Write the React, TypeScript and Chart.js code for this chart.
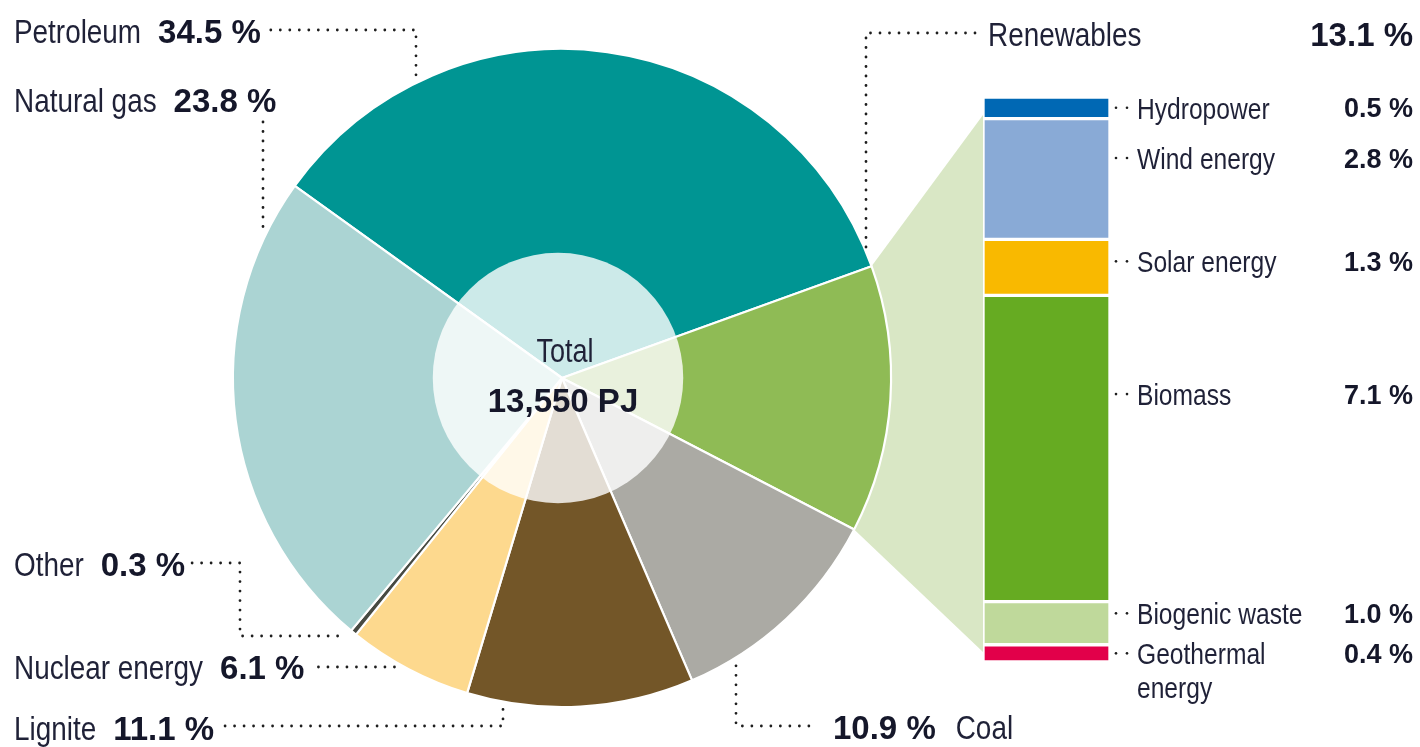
import React, { useEffect, useRef } from 'react';
import { Chart, registerables } from 'chart.js';

Chart.register(...registerables);

const W = 1420;
const H = 747;

// Primary energy sources (clockwise from the petroleum slice)
const sourceLabels = ['Petroleum', 'Renewables', 'Coal', 'Lignite', 'Nuclear energy', 'Other', 'Natural gas'];
const sourceValues = [34.5, 13.1, 10.9, 11.1, 6.1, 0.3, 23.8];
const sourceColors = ['#009593', '#8fbb55', '#abaaa4', '#735628', '#fdd98e', '#474a42', '#abd4d3'];

// Renewables breakdown (top to bottom)
const renewLabels = ['Hydropower', 'Wind energy', 'Solar energy', 'Biomass', 'Biogenic waste', 'Geothermal energy'];
const renewValues = [0.5, 2.8, 1.3, 7.1, 1.0, 0.4];
const renewColors = ['#0068b4', '#89aad6', '#f9b900', '#66ab22', '#bfd99b', '#e2004a'];

const totalLabel = 'Total';
const totalValue = '13,550 PJ';

const FONT = '"Liberation Sans", Arial, sans-serif';
const NARROW = 0.82;
const INK = '#1f2137';

const pct = (v: number) => `${v.toFixed(1)} %`;

function narrow(ctx: CanvasRenderingContext2D, text: string, x: number, cyT: number, size: number, align: 'left' | 'center' | 'right' = 'left') {
  ctx.save();
  ctx.font = `${size}px ${FONT}`;
  const w = ctx.measureText(text).width * NARROW;
  const left = align === 'left' ? x : align === 'center' ? x - w / 2 : x - w;
  ctx.translate(left, cyT + size * 0.358);
  ctx.scale(NARROW, 1);
  ctx.fillStyle = INK;
  ctx.textAlign = 'left';
  ctx.textBaseline = 'alphabetic';
  ctx.fillText(text, 0, 0);
  ctx.restore();
  return w;
}

function measureNarrow(ctx: CanvasRenderingContext2D, text: string, size: number) {
  ctx.save();
  ctx.font = `${size}px ${FONT}`;
  const w = ctx.measureText(text).width * NARROW;
  ctx.restore();
  return w;
}

function bold(ctx: CanvasRenderingContext2D, text: string, x: number, cyT: number, size: number, align: 'left' | 'center' | 'right' = 'left') {
  ctx.save();
  ctx.font = `bold ${size}px ${FONT}`;
  const w = ctx.measureText(text).width;
  const left = align === 'left' ? x : align === 'center' ? x - w / 2 : x - w;
  ctx.fillStyle = '#15172a';
  ctx.textAlign = 'left';
  ctx.textBaseline = 'alphabetic';
  ctx.fillText(text, left, cyT + size * 0.358);
  ctx.restore();
  return w;
}

function dotted(ctx: CanvasRenderingContext2D, pts: number[][], gap = 9.5, width = 2.8) {
  ctx.save();
  ctx.strokeStyle = '#1e1e1e';
  ctx.lineWidth = width;
  ctx.lineCap = 'round';
  ctx.setLineDash([0, gap]);
  ctx.beginPath();
  ctx.moveTo(pts[0][0], pts[0][1]);
  for (let i = 1; i < pts.length; i++) ctx.lineTo(pts[i][0], pts[i][1]);
  ctx.stroke();
  ctx.restore();
}

function dot(ctx: CanvasRenderingContext2D, x: number, y: number, r = 1.3) {
  ctx.save();
  ctx.fillStyle = '#1e1e1e';
  ctx.beginPath();
  ctx.arc(x, y, r, 0, Math.PI * 2);
  ctx.fill();
  ctx.restore();
}

function makePiePlugin(getBar: () => any) {
  return {
    id: 'pieDecor',
    beforeDatasetsDraw(chart: any) {
      const bar = getBar();
      if (!bar) return;
      const ctx: CanvasRenderingContext2D = chart.ctx;
      const arc = chart.getDatasetMeta(0).data[1];
      const { x, y, startAngle, endAngle, outerRadius } = arc.getProps(['x', 'y', 'startAngle', 'endAngle', 'outerRadius'], true);
      const area = bar.chartArea;
      ctx.save();
      ctx.fillStyle = '#d9e7c5';
      ctx.beginPath();
      ctx.moveTo(x + outerRadius * Math.cos(startAngle), y + outerRadius * Math.sin(startAngle));
      ctx.lineTo(area.left, area.top + 18);
      ctx.lineTo(area.left, area.bottom - 10);
      ctx.lineTo(x + outerRadius * Math.cos(endAngle), y + outerRadius * Math.sin(endAngle));
      ctx.closePath();
      ctx.fill();
      ctx.restore();
    },
    afterDatasetsDraw(chart: any) {
      const ctx: CanvasRenderingContext2D = chart.ctx;
      const a0 = chart.getDatasetMeta(0).data[0];
      const { x: cx, y: cy, outerRadius } = a0.getProps(['x', 'y', 'outerRadius'], true);
      const R = outerRadius - 1.25;
      const arcTopY = (px: number) => cy - Math.sqrt(R * R - (px - cx) * (px - cx));
      const arcBotY = (px: number) => cy + Math.sqrt(R * R - (px - cx) * (px - cx));
      const arcLeftX = (py: number) => cx - Math.sqrt(R * R - (py - cy) * (py - cy));

      // translucent centre disc
      ctx.save();
      ctx.fillStyle = 'rgba(255,255,255,0.8)';
      ctx.beginPath();
      ctx.arc(cx - 4, cy, R * 0.382, 0, Math.PI * 2);
      ctx.fill();
      ctx.restore();

      narrow(ctx, totalLabel, cx + 3, cy - 28, 33, 'center');
      bold(ctx, totalValue, cx + 1, cy + 22, 33, 'center');

      const WS = 34;
      const NS = 33;
      const GAP = 17;
      const pair = (idx: number, cyT: number) => {
        const w1 = narrow(ctx, sourceLabels[idx], 14, cyT, WS);
        const x2 = 14 + w1 + GAP;
        const w2 = bold(ctx, pct(sourceValues[idx]), x2, cyT, NS);
        return x2 + w2;
      };

      // Petroleum
      let e = pair(0, 31);
      dotted(ctx, [[e + 10, 30], [cx - 146, 30], [cx - 146, arcTopY(cx - 146) - 6]]);
      // Natural gas
      pair(6, 100);
      dotted(ctx, [[cx - 299, 122], [cx - 299, arcTopY(cx - 299) - 12]]);
      // Other
      e = pair(5, 564);
      dotted(ctx, [[e + 7, 563], [cx - 322, 563], [cx - 322, 636], [arcLeftX(636) - 14, 636]]);
      // Nuclear
      e = pair(4, 667);
      dotted(ctx, [[e + 14, 667], [arcLeftX(667) - 12, 667]]);
      // Lignite
      e = pair(3, 728);
      dotted(ctx, [[e + 11, 726], [cx - 59, 726], [cx - 59, arcBotY(cx - 59) + 7]]);
      // Coal
      const coalX = 833;
      const cw = bold(ctx, pct(sourceValues[2]), coalX, 727, NS);
      narrow(ctx, sourceLabels[2], coalX + cw + 20, 727, WS);
      dotted(ctx, [[cx + 174, arcBotY(cx + 174) + 10], [cx + 174, 726], [coalX - 16, 726]]);
      // Renewables
      const rx = 988;
      narrow(ctx, sourceLabels[1], rx, 34, WS);
      bold(ctx, pct(sourceValues[1]), 1413, 34, NS, 'right');
      dotted(ctx, [[rx - 13, 33], [cx + 304, 33], [cx + 304, arcTopY(cx + 304) - 2]]);
    },
  };
}

const barLabelPlugin = {
  id: 'barLabels',
  afterDatasetsDraw(chart: any) {
    const ctx: CanvasRenderingContext2D = chart.ctx;
    const area = chart.chartArea;
    const n = renewLabels.length;
    const ys: number[] = [];
    for (let i = 0; i < n; i++) {
      const el = chart.getDatasetMeta(i).data[0];
      const { y, base } = el.getProps(['y', 'base'], true);
      const top = Math.min(y, base) + 2;
      const bottom = Math.max(y, base) - 2;
      const h = bottom - top;
      ys.push(top + Math.max(Math.min(h / 2, 20), 0.32 * h));
    }
    for (let i = n - 2; i >= 0; i--) {
      if (ys[i] > ys[i + 1] - 40) ys[i] = ys[i + 1] - 40;
    }
    const LS = 30;
    const VS = 27;
    const tx = area.right + 27;
    const vx = 1413;
    for (let i = 0; i < n; i++) {
      const yy = ys[i];
      dot(ctx, area.right + 6, yy);
      dot(ctx, area.right + 17, yy);
      const vtxt = pct(renewValues[i]);
      ctx.save();
      ctx.font = `bold ${VS}px ${FONT}`;
      const vw = ctx.measureText(vtxt).width;
      ctx.restore();
      const avail = vx - vw - 10 - tx;
      const label = renewLabels[i];
      if (measureNarrow(ctx, label, LS) > avail && label.includes(' ')) {
        const k = label.lastIndexOf(' ');
        narrow(ctx, label.slice(0, k), tx, yy, LS);
        narrow(ctx, label.slice(k + 1), tx, yy + 34, LS);
      } else {
        narrow(ctx, label, tx, yy, LS);
      }
      bold(ctx, vtxt, vx, yy, VS, 'right');
    }
  },
};

export default function App() {
  const pieRef = useRef<HTMLCanvasElement>(null);
  const barRef = useRef<HTMLCanvasElement>(null);

  useEffect(() => {
    const renewTotal = renewValues.reduce((a, b) => a + b, 0);
    const barChart = new Chart(barRef.current as HTMLCanvasElement, {
      type: 'bar',
      data: {
        labels: [sourceLabels[1]],
        datasets: renewLabels.map((l, i) => ({
          label: l,
          data: [renewValues[i]],
          backgroundColor: renewColors[i],
          borderColor: '#ffffff',
          borderWidth: 2,
          borderSkipped: false,
          categoryPercentage: 1,
          barPercentage: 1,
        })),
      },
      options: {
        responsive: false,
        animation: false,
        events: [],
        layout: { padding: { left: 983, right: W - 1110, top: 97, bottom: H - 662 } },
        plugins: { legend: { display: false }, tooltip: { enabled: false } },
        scales: {
          x: { stacked: true, display: false },
          y: { stacked: true, display: false, reverse: true, min: 0, max: renewTotal },
        },
      } as any,
      plugins: [barLabelPlugin as any],
    });

    const pieChart = new Chart(pieRef.current as HTMLCanvasElement, {
      type: 'pie',
      data: {
        labels: sourceLabels,
        datasets: [
          {
            data: sourceValues,
            backgroundColor: sourceColors,
            borderColor: '#ffffff',
            borderWidth: 2.2,
          },
        ],
      },
      options: {
        responsive: false,
        animation: false,
        events: [],
        rotation: -54.3,
        radius: 329.1,
        layout: { padding: { left: 200, right: W - 924, top: 40, bottom: H - 716 } },
        plugins: { legend: { display: false }, tooltip: { enabled: false } },
      } as any,
      plugins: [makePiePlugin(() => barChart) as any],
    });

    return () => {
      pieChart.destroy();
      barChart.destroy();
    };
  }, []);

  return (
    <div style={{ position: 'fixed', left: 0, top: 0, width: W, height: H, background: '#ffffff' }}>
      <canvas ref={pieRef} width={W} height={H} style={{ position: 'absolute', left: 0, top: 0, width: W, height: H }} />
      <canvas ref={barRef} width={W} height={H} style={{ position: 'absolute', left: 0, top: 0, width: W, height: H }} />
    </div>
  );
}
